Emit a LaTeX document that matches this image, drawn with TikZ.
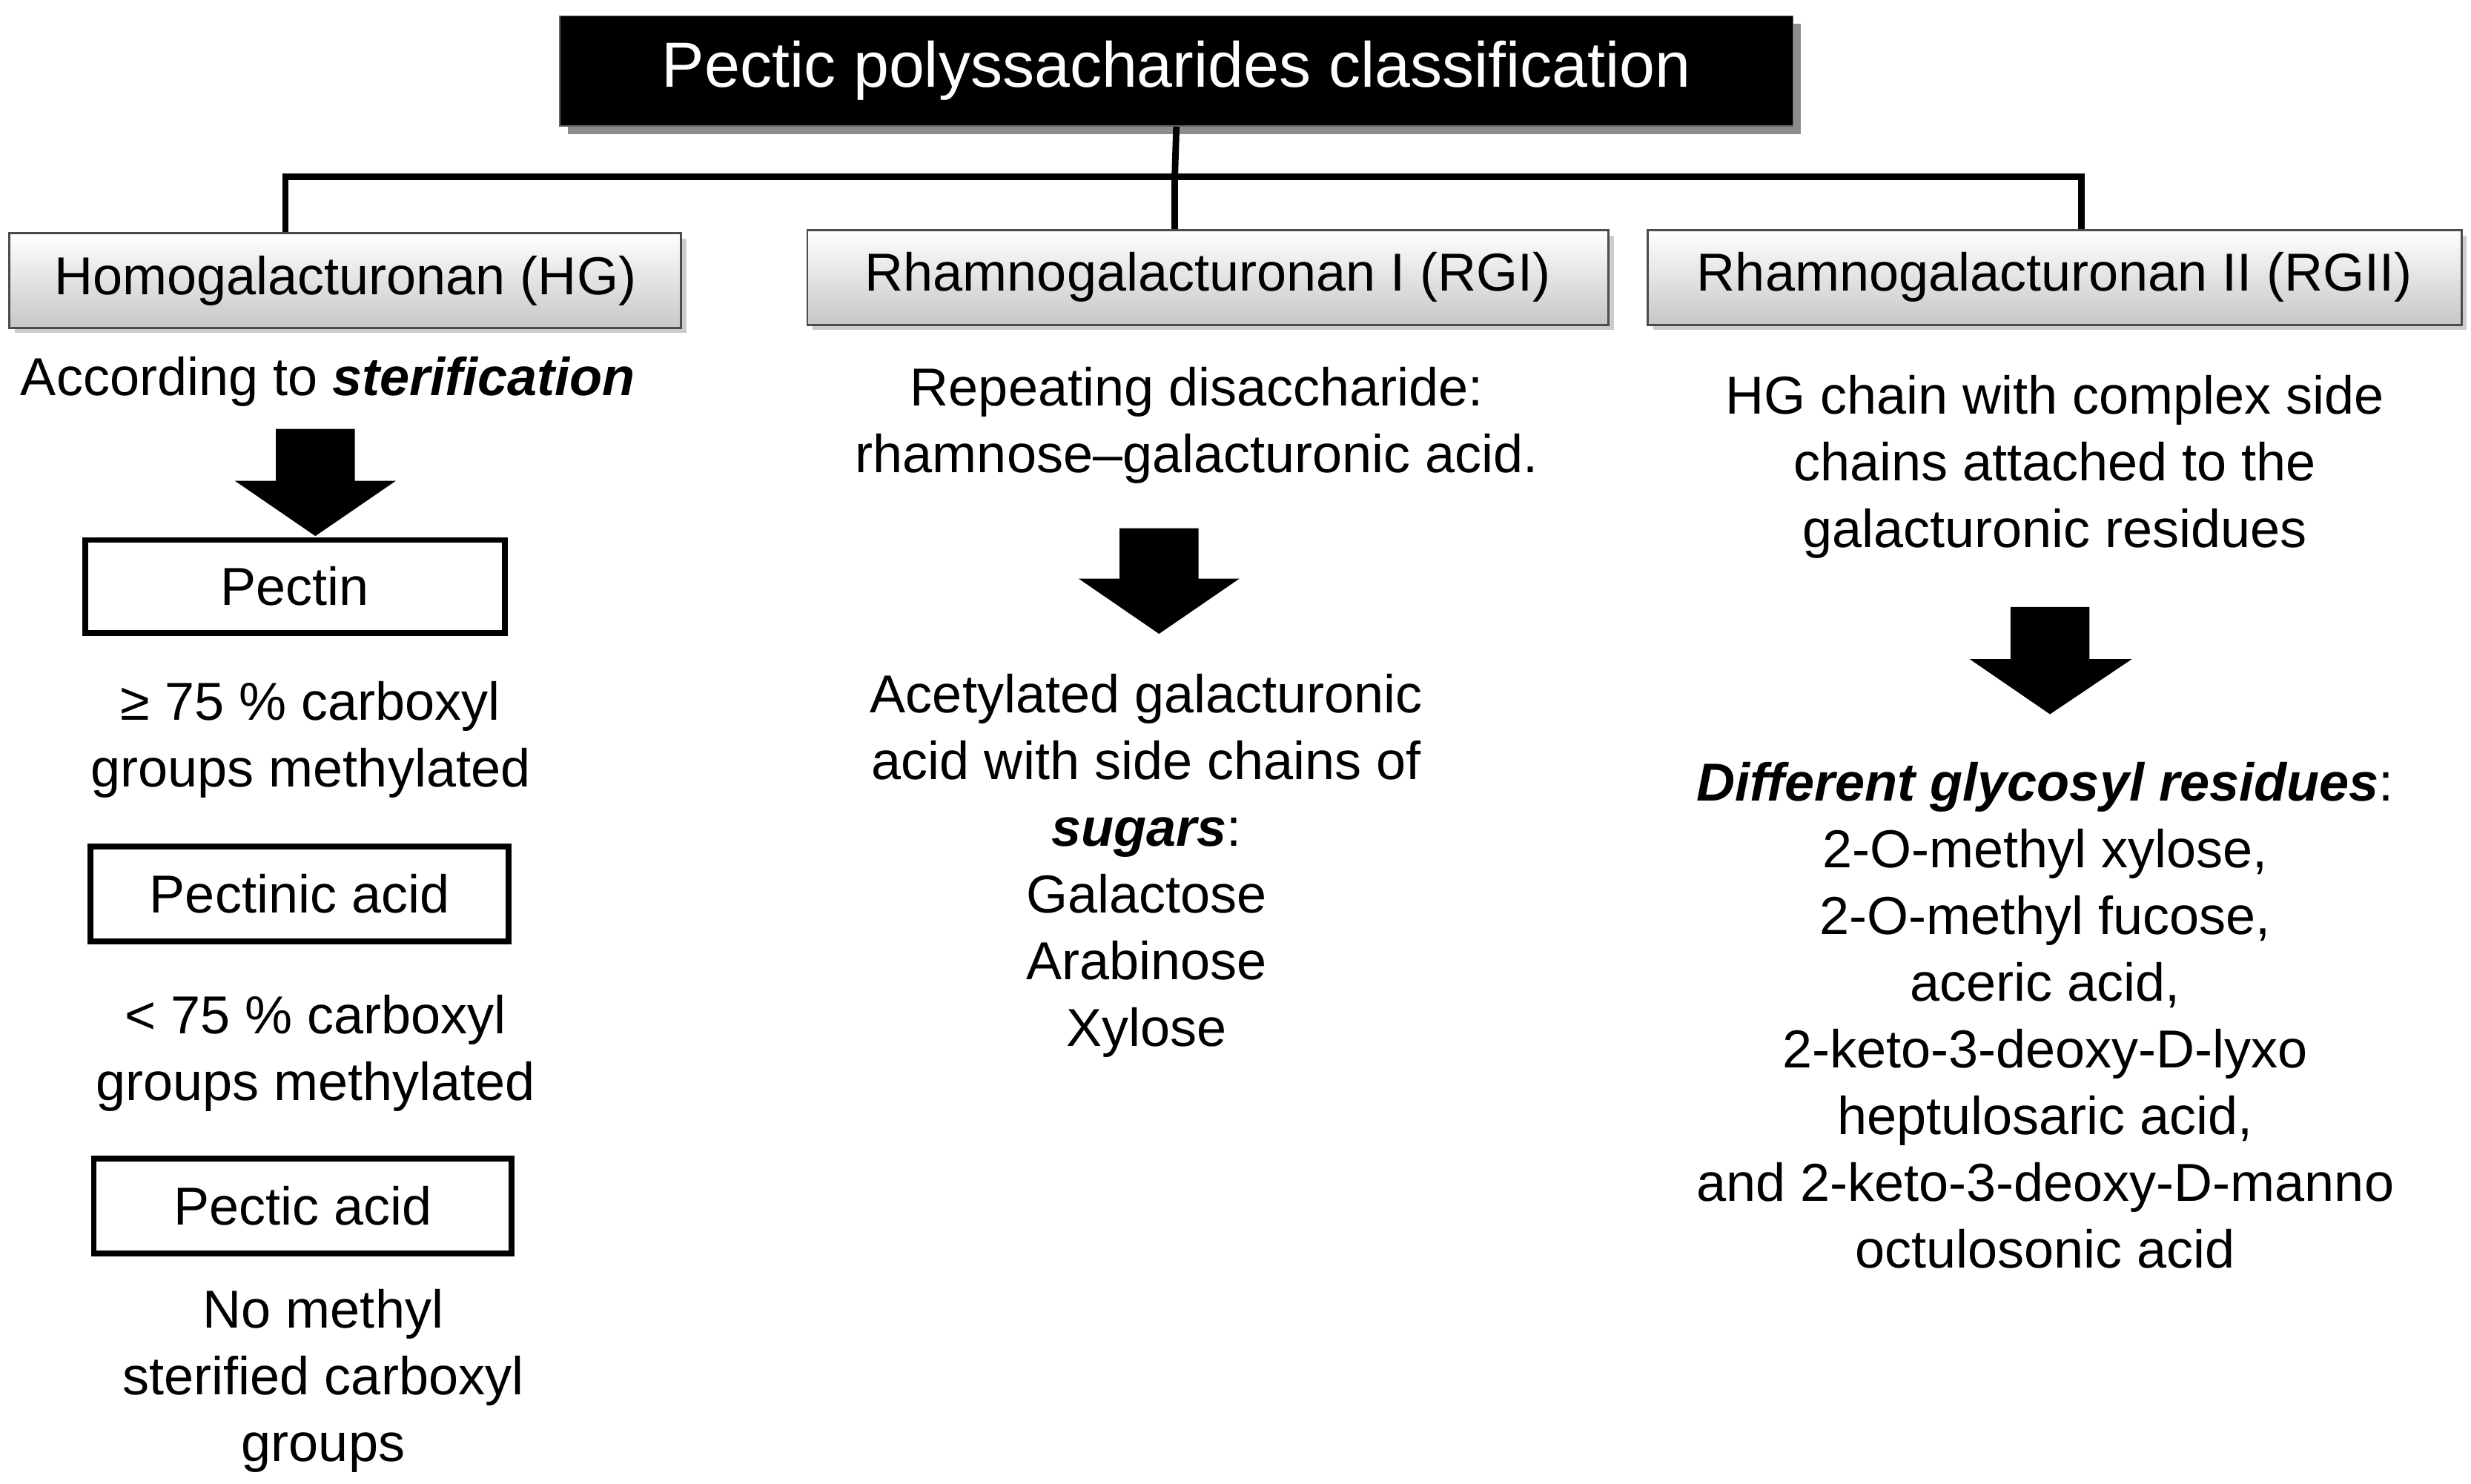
\documentclass[tikz,border=0pt]{standalone}
\usepackage{fontspec}
\setmainfont{Liberation Sans}
\usetikzlibrary{shadows}
\begin{document}
\begin{tikzpicture}[x=0.02127cm,y=-0.02127cm,
  txt/.style={font=\fontsize{20.5}{25.6}\selectfont,align=center,inner sep=0},
  cat/.style={draw=black!70,line width=0.8pt,top color=white,bottom color=black!22,
     font=\fontsize{20.5}{24}\selectfont,drop shadow={opacity=0.4,shadow xshift=2pt,shadow yshift=-2pt}},
  sub/.style={draw=black,line width=2.2pt,fill=white,font=\fontsize{20.5}{24}\selectfont},
  link/.style={line width=2.5pt},
  bigarrow/.style={fill=black}]
\useasboundingbox (0,0) rectangle (1567,941);
% header
\fill[black!45] (360,15) rectangle (1142,85);
\node[fill=black,draw=black!60,minimum width=782*0.02127cm,minimum height=70*0.02127cm,
  text=white,font=\fontsize{24.5}{28}\selectfont] (top) at (746,45) {Pectic polyssacharides classification};
% category boxes
\node[cat,minimum width=426*0.02127cm,minimum height=60*0.02127cm] (hg) at (219,178) {Homogalacturonan (HG)};
\node[cat,minimum width=508*0.02127cm,minimum height=60*0.02127cm] (rg1) at (766,176) {Rhamnogalacturonan I (RGI)};
\node[cat,minimum width=516*0.02127cm,minimum height=60*0.02127cm] (rg2) at (1303,176) {Rhamnogalacturonan II (RGII)};
% connectors
\coordinate (j) at (745,112);
\draw[link] (top.south) -- (j);
\draw[link] (hg.north -| 181,0) |- (j) -| (rg2.north -| 1320,0);
\draw[link] (j) -- (rg1.north -| 745,0);
% HG column
\node[txt] (acc) at (208,242) {According to \textbf{\textit{sterification}}};
\fill[bigarrow] (175,272) -- (225,272) -- (225,305) -- (251,305) -- (200,340) -- (149,305) -- (175,305) -- cycle;
\node[sub,minimum width=266*0.02127cm,minimum height=59*0.02127cm] (pectin) at (187,372) {Pectin};
\node[txt] (t1) at (197,469) {≥ 75 \% carboxyl\\groups methylated};
\node[sub,minimum width=265*0.02127cm,minimum height=60*0.02127cm] (pectinic) at (190,567) {Pectinic acid};
\node[txt] (t2) at (200,668) {< 75 \% carboxyl\\groups methylated};
\node[sub,minimum width=265*0.02127cm,minimum height=60*0.02127cm] (pectic) at (192,765) {Pectic acid};
\node[txt] (t3) at (205,876) {No methyl\\sterified carboxyl\\groups};
% RGI column
\node[txt] (r1) at (759,270) {Repeating disaccharide:\\rhamnose–galacturonic acid.};
\fill[bigarrow] (710,335) -- (760,335) -- (760,367) -- (786,367) -- (735,402) -- (684,367) -- (710,367) -- cycle;
\node[txt] (r2) at (727,549) {Acetylated galacturonic\\acid with side chains of\\\textbf{\textit{sugars}}:\\Galactose\\Arabinose\\Xylose};
% RGII column
\node[txt] (q1) at (1303,296) {HG chain with complex side\\chains attached to the\\galacturonic residues};
\fill[bigarrow] (1275,385) -- (1325,385) -- (1325,418) -- (1352,418) -- (1300,453) -- (1249,418) -- (1275,418) -- cycle;
\node[txt] (q2) at (1297,644) {\textbf{\textit{Different glycosyl residues}}:\\2-O-methyl xylose,\\2-O-methyl fucose,\\aceric acid,\\2-keto-3-deoxy-D-lyxo\\heptulosaric acid,\\and 2-keto-3-deoxy-D-manno\\octulosonic acid};
\end{tikzpicture}
\end{document}
